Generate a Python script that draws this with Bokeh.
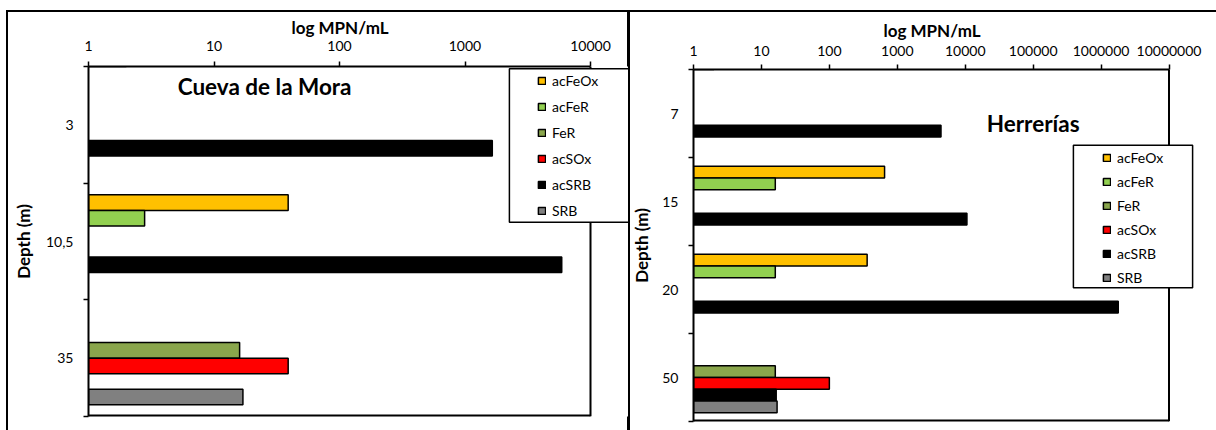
import math
from bokeh.plotting import figure
from bokeh.models import (ColumnDataSource, Range1d, FixedTicker, Span, Title,
                          NumeralTickFormatter, Legend, LegendItem, Label)
from bokeh.layouts import row, column
from bokeh.embed import file_html
from bokeh.resources import INLINE

# ---------------- data ----------------
series_names = ["acFeOx", "acFeR", "FeR", "acSOx", "acSRB", "SRB"]
series_colors = ["#FFC000", "#92D050", "#8AA64C", "#FF0000", "#000000", "#808080"]

cueva_depths = ["3", "10,5", "35"]
cueva_acFeOx = [None, 39, None]
cueva_acFeR = [None, 2.8, None]
cueva_FeR = [None, None, 16]
cueva_acSOx = [None, None, 39]
cueva_acSRB = [1650, 5900, None]
cueva_SRB = [None, None, 17]
cueva_xticks = [1, 10, 100, 1000, 10000]

herr_depths = ["7", "15", "20", "50"]
herr_acFeOx = [None, 650, 360, None]
herr_acFeR = [None, 16, 16, None]
herr_FeR = [None, None, None, 16]
herr_acSOx = [None, None, None, 100]
herr_acSRB = [4400, 10600, 1790000, 16.5]
herr_SRB = [None, None, None, 17]
herr_xticks = [1, 10, 100, 1000, 10000, 100000, 1000000, 10000000]

FONT = "Lato"


def make_panel(depths, values, xticks, title, cfg):
    n = len(depths)
    bar_h = 1.0 / (len(series_names) + 1.5)
    # the plotting frame extends to the right of the last decade so that the
    # legend box (which sticks out of the plot area) is not clipped
    frame_w = cfg["width"] - cfg["ml"] - cfg["mr"]
    px_per_dec = cfg["axis_px"] / math.log10(xticks[-1] / xticks[0])
    x_end = xticks[-1] * 10 ** ((frame_w - cfg["axis_px"]) / px_per_dec)

    p = figure(width=cfg["width"], height=cfg["height"],
               x_axis_type="log", x_axis_location="above",
               x_range=Range1d(xticks[0], x_end),
               y_range=Range1d(n, 0),
               output_backend="svg", toolbar_location=None,
               min_border_left=cfg["ml"], min_border_right=cfg["mr"],
               min_border_top=cfg["mt"], min_border_bottom=cfg["mb"])
    p.grid.visible = False
    p.border_fill_color = None
    p.background_fill_color = "white"
    p.outline_line_color = None
    p.styles = {"box-shadow": cfg["shadow"]}

    # x axis (log, on top)
    xa = p.xaxis[0]
    xa.bounds = (xticks[0], xticks[-1])
    xa.ticker = FixedTicker(ticks=xticks, minor_ticks=[])
    xa.formatter = NumeralTickFormatter(format="0")
    xa.axis_line_width = 2
    xa.major_tick_out = 5
    xa.major_tick_in = 0
    xa.major_tick_line_width = 1.5
    xa.minor_tick_line_color = None
    xa.major_label_text_font = FONT
    xa.major_label_text_font_size = cfg["tick_fs"]
    xa.major_label_text_color = "black"
    xa.major_label_standoff = cfg["x_standoff"]

    # x-axis title, centred over the axis span (not over the widened frame)
    p.add_layout(Title(text="log MPN/mL", align="left", offset=cfg["xl_offset"],
                       standoff=cfg["xl_standoff"], text_font=FONT,
                       text_font_style="bold", text_font_size="17px",
                       text_color="black"), "above")

    # y axis (categories, ticks between them)
    ya = p.yaxis[0]
    centers = [i + 0.5 for i in range(n)]
    ya.ticker = FixedTicker(ticks=centers, minor_ticks=list(range(n + 1)))
    ya.major_label_overrides = {c: d for c, d in zip(centers, depths)}
    ya.axis_line_width = 2
    ya.major_tick_line_color = None
    ya.major_tick_out = 0
    ya.major_tick_in = 0
    ya.minor_tick_out = 5
    ya.minor_tick_in = 0
    ya.minor_tick_line_color = "black"
    ya.minor_tick_line_width = 1.5
    ya.major_label_text_font = FONT
    ya.major_label_text_font_size = "14px"
    ya.major_label_text_color = "black"
    ya.major_label_standoff = cfg["y_standoff"]
    ya.axis_label = "Depth (m)"
    ya.axis_label_text_font = FONT
    ya.axis_label_text_font_style = "bold"
    ya.axis_label_text_font_size = "17px"
    ya.axis_label_text_color = "black"
    ya.axis_label_standoff = cfg["yl_standoff"]

    # plot-area border on the right and at the bottom
    p.add_layout(Span(location=xticks[-1], dimension="height",
                      line_color="black", line_width=2))
    p.segment(x0=[xticks[0]], y0=[n], x1=[xticks[-1]], y1=[n],
              line_color="black", line_width=4)

    # bars
    items = []
    for j, (name, color, vals) in enumerate(zip(series_names, series_colors, values)):
        ys = [i + 0.5 + (j - 2.5) * bar_h for i, v in enumerate(vals) if v is not None]
        rs = [v for v in vals if v is not None]
        src = ColumnDataSource(data=dict(y=ys, right=rs))
        r = p.hbar(y="y", left=1, right="right", height=bar_h, source=src,
                   fill_color=color, line_color="black", line_width=1.5)
        items.append(LegendItem(label=name, renderers=[r]))

    # legend frame (white box with border), drawn by a proxy legend item
    box_src = ColumnDataSource(data=dict(y=[-10], right=[2]))
    box_r = p.hbar(y="y", left=1, right="right", height=0.1, source=box_src,
                   fill_color="white", line_color="black", line_width=1.5)
    box_leg = Legend(items=[LegendItem(label=" ", renderers=[box_r])],
                     location=cfg["box_loc"], padding=0, margin=0, spacing=0,
                     glyph_width=cfg["box_gw"], glyph_height=cfg["box_gh"],
                     label_standoff=0, label_width=0, label_height=0,
                     border_line_alpha=0, background_fill_alpha=0,
                     label_text_font_size="1px")
    p.add_layout(box_leg, "center")

    leg = Legend(items=items, location=cfg["leg_loc"], padding=0, margin=0,
                 spacing=cfg["leg_spacing"], glyph_width=9, glyph_height=9,
                 label_standoff=6, label_height=cfg["leg_lh"], label_width=10,
                 border_line_alpha=0, background_fill_alpha=0,
                 label_text_font=FONT, label_text_font_size="14px",
                 label_text_color="black")
    p.add_layout(leg, "center")

    p.add_layout(Label(x=cfg["title_x"], y=cfg["title_y"], text=title,
                       text_align="center", text_baseline="middle",
                       text_font=FONT, text_font_style="bold",
                       text_font_size=cfg["title_fs"], text_color="black"))
    return p


cfg_left = dict(width=628, height=430, ml=88, mr=0, mt=66, mb=14, axis_px=502,
                shadow=("inset 0 10px 0 0 #ffffff, inset 6px 0 0 0 #ffffff, "
                        "inset 0 12px 0 0 #000000, inset 8px 0 0 0 #000000, "
                        "inset -1px 0 0 0 #000000"),
                tick_fs="14px", x_standoff=11, xl_standoff=0, xl_offset=203,
                y_standoff=10, yl_standoff=9,
                box_loc=(404, 175), box_gw=169, box_gh=192,
                leg_loc=(449, 196), leg_spacing=6, leg_lh=20,
                title_x=25.3, title_y=0.171, title_fs="22.5px")

cfg_right = dict(width=588, height=430, ml=65, mr=16, mt=69, mb=9, axis_px=475.5,
                 shadow=("inset 0 10px 0 0 #ffffff, inset 0 12px 0 0 #000000, "
                         "inset 2px 0 0 0 #000000"),
                 tick_fs="14px", x_standoff=9, xl_standoff=4, xl_offset=190,
                 y_standoff=10, yl_standoff=7,
                 box_loc=(365, 116), box_gw=149, box_gh=178,
                 leg_loc=(409, 135), leg_spacing=6, leg_lh=18,
                 title_x=100000, title_y=0.611, title_fs="22.5px")

p1 = make_panel(cueva_depths,
                [cueva_acFeOx, cueva_acFeR, cueva_FeR, cueva_acSOx, cueva_acSRB, cueva_SRB],
                cueva_xticks, "Cueva de la Mora", cfg_left)
p2 = make_panel(herr_depths,
                [herr_acFeOx, herr_acFeR, herr_FeR, herr_acSOx, herr_acSRB, herr_SRB],
                herr_xticks, "Herrerías", cfg_right)

# each panel in its own column so that their frames are laid out independently
layout = row(column(p1), column(p2))
open("out.html", "w").write(file_html(layout, INLINE))
